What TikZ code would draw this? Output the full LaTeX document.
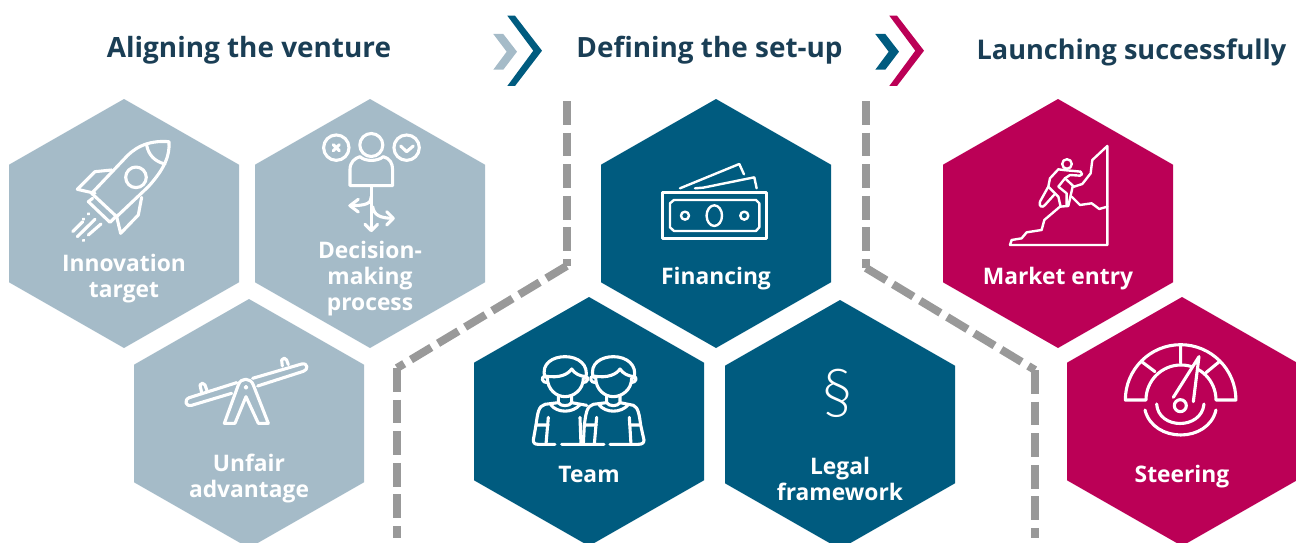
\documentclass[tikz,border=0pt]{standalone}
\usepackage{fontspec}
\setmainfont{Open Sans}
\newfontfamily\lightfont{Lato Light}
\definecolor{lightc}{HTML}{A5BBC8}
\definecolor{bluec}{HTML}{005B7F}
\definecolor{redc}{HTML}{BB0056}
\definecolor{greyc}{HTML}{999999}
\definecolor{titlec}{HTML}{1A3E55}
\newcommand{\hexa}[3]{\fill[#1,shift={(#2,#3)}] (0,-124.5)--(115,-58.8)--(115,58.8)--(0,124.5)--(-115,58.8)--(-115,-58.8)--cycle;}
\tikzset{
  titletext/.style={text=titlec,font=\fontsize{27.9}{30}\selectfont\bfseries,inner sep=0pt},
  hexlabel/.style={text=white,font=\fontsize{22.8}{26}\selectfont\bfseries,align=center,inner sep=0pt},
  icon/.style={draw=white,line width=3.1pt,line join=round,line cap=round},
  sepline/.style={draw=greyc,line width=8pt,dash pattern=on 23.7pt off 7.9pt},
  zoomA/.style={shift={(#1)},x=0.3333pt,y=-0.3333pt},
}
\begin{document}
\begin{tikzpicture}[x=1pt,y=-1pt]
\clip (0,0) rectangle (1296,543);
% titles
\node[titletext] (t1) at (249,50.5) {Aligning the venture};
\node[titletext] (t2) at (709.5,50.5) {Defining the set-up};
\node[titletext,font=\fontsize{27.1}{30}\selectfont\bfseries] (t3) at (1131.5,52) {Launching successfully};
% chevrons
\fill[lightc] (493.3,34)--(503.3,34)--(517,51.7)--(503.3,69.7)--(493.3,69.7)--(506.7,51.7)--cycle;
\fill[bluec] (507.3,15.7)--(515,15.7)--(542,50.7)--(515,86)--(507.3,86)--(533.3,50.7)--cycle;
\fill[bluec] (875.3,34)--(885.3,34)--(899,51.7)--(885.3,69.7)--(875.3,69.7)--(888.7,51.7)--cycle;
\fill[redc] (889.3,15.7)--(897,15.7)--(924,50.7)--(897,86)--(889.3,86)--(915.3,50.7)--cycle;
% separators
\coordinate (a1) at (566.7,101); \coordinate (a2) at (566.7,266); \coordinate (a3) at (397,368); \coordinate (a4) at (397,538);
\coordinate (b1) at (866,101); \coordinate (b2) at (866,268); \coordinate (b3) at (1035,370); \coordinate (b4) at (1035,538);
\draw[sepline] (a1)--(a2); \draw[sepline] (a2)--(a3); \draw[sepline] (a3)--(a4);
\draw[sepline] (b1)--(b2); \draw[sepline] (b2)--(b3); \draw[sepline] (b3)--(b4);
% hexagons
\hexa{lightc}{124}{223.5}
\hexa{lightc}{370}{223.5}
\hexa{lightc}{249}{423.5}
\hexa{bluec}{716}{223.5}
\hexa{bluec}{589}{421.5}
\hexa{bluec}{840}{424.5}
\hexa{redc}{1058}{223.5}
\hexa{redc}{1182}{421.5}
% labels
\node[hexlabel] (l1) at (124,278.5) {Innovation\\target};
\node[hexlabel] (l2) at (370,278.5) {Decision-\\making\\process};
\node[hexlabel] (l3) at (249,478.5) {Unfair\\advantage};
\node[hexlabel] (l4) at (716,278.5) {Financing};
\node[hexlabel] (l5) at (589,474.5) {Team};
\node[hexlabel] (l6) at (840,478.5) {Legal\\framework};
\node[hexlabel] (l7) at (1058,278.5) {Market entry};
\node[hexlabel] (l8) at (1182,476.5) {Steering};
% section sign
\node[text=white,inner sep=0pt,font=\fontsize{62}{62}\selectfont\lightfont] (sec) at (838,393) {§};
% rocket
\begin{scope}[zoomA={0,90}]
\draw[icon] (507,155) .. controls (440,150) and (400,175) .. (370,210) -- (275,310) -- (350,380) -- (445,290) .. controls (495,235) and (510,195) .. (507,155) -- cycle;
\draw[icon] (440,165) .. controls (445,195) and (465,215) .. (495,222);
\draw[icon] (408,262) circle[radius=10.3pt];
\draw[icon] (335,240) -- (285,245) -- (232,298) -- (285,310);
\draw[icon] (425,322) -- (415,375) -- (362,430) -- (350,380);
\draw[icon] (278,325) -- (265,335) -- (330,397) -- (345,382);
\draw[icon] (218,425)--(248,395) (232,440)--(285,388) (265,435)--(303,402);
\draw[icon] (250,388)--(251,387) (265,372)--(266,371) (250,452)--(251,451);
% decision
\draw[icon] (1009,173) circle[radius=12.7pt] (1220,173) circle[radius=12.7pt] (1114,165) circle[radius=11.5pt];
\draw[icon] (1000,164)--(1018,182) (1018,164)--(1000,182);
\draw[icon] (1202,168)--(1220,185)--(1240,168);
\draw[icon] (1050,287) -- (1050,240) .. controls (1050,215) and (1065,205) .. (1080,200) .. controls (1095,215) and (1133,215) .. (1150,200) .. controls (1170,205) and (1178,220) .. (1178,240) -- (1178,287) -- cycle;
\draw[icon] (1114,287)--(1114,422);
\draw[icon] (1114,320) .. controls (1114,340) and (1100,347) .. (1050,347);
\draw[icon] (1075,328)--(1050,347)--(1075,366);
\draw[icon] (1118,350) .. controls (1122,375) and (1140,385) .. (1180,385);
\draw[icon] (1160,365)--(1180,385)--(1160,405);
\draw[icon] (1095,403)--(1114,422)--(1133,403);
\end{scope}
% seesaw
\begin{scope}[zoomA={130,300}]
\draw[icon] (320,248) -- (178,293) .. controls (160,300) and (168,322) .. (185,316) -- (305,280);
\draw[icon] (368,235) -- (515,192) .. controls (535,188) and (535,210) .. (520,214) -- (383,258);
\draw[icon] (215,278)--(210,255) .. controls (212,248) and (222,248) .. (225,255) -- (231,272);
\draw[icon] (457,198)--(455,180) .. controls (458,172) and (468,174) .. (470,180) -- (475,194);
\draw[icon] (283,370) -- (325,255) .. controls (332,232) and (362,232) .. (370,255) -- (415,370) -- (385,370) -- (348,290) -- (315,370) -- cycle;
\draw[icon,line width=2pt] (348,262) circle[radius=1.4pt];
\end{scope}
% money
\begin{scope}[zoomA={470,0}]
\draw[icon,line cap=butt,line width=2.4pt] (578,578) rectangle (889,716);
\draw[icon,line width=2.4pt] (600,610)--(612,600)--(858,600)--(868,610)--(868,682)--(858,693)--(612,693)--(600,682)--cycle;
\draw[icon,line width=2.4pt] (733,647) ellipse[x radius=7.7pt,y radius=10.3pt];
\draw[icon,line width=2.4pt] (645,647) circle[radius=4pt] (823,647) circle[radius=4pt];
\draw[icon,line width=2.4pt] (630,565)--(808,492)--(822,523);
\draw[icon,line width=2.4pt] (675,565)--(700,563)--(853,532)--(860,565);
\end{scope}
% team
\foreach \dx in {0,145}{
\begin{scope}[zoomA={470+\dx/3,300}]
\draw[icon] (225,232) .. controls (212,190) and (250,170) .. (285,170) .. controls (325,170) and (358,195) .. (347,235);
\draw[icon] (225,228) .. controls (270,236) and (295,222) .. (305,207) .. controls (315,222) and (330,228) .. (347,230);
\draw[icon] (232,232) .. controls (232,270) and (260,290) .. (285,290) .. controls (310,290) and (340,270) .. (340,235);
\draw[icon] (224,228) .. controls (212,232) and (216,248) .. (232,248) (346,228) .. controls (358,232) and (354,248) .. (338,248);
\draw[icon] (265,288)--(265,308) .. controls (272,320) and (298,320) .. (305,308)--(305,288);
\draw[icon] (242,314) .. controls (262,340) and (308,340) .. (330,314);
\end{scope}}
\begin{scope}[zoomA={470,300}]
\draw[icon] (265,308) -- (225,313) .. controls (205,318) and (203,340) .. (198,375) -- (190,420) .. controls (190,430) and (195,433) .. (205,433) -- (255,433);
\draw[icon] (235,352)--(228,433) (198,375)--(235,375);
\draw[icon] (305,308)--(350,316);
\draw[icon] (275,433)--(402,433) (330,352)--(333,433);
\draw[icon] (410,308) -- (370,313) .. controls (350,318) and (348,340) .. (343,375) -- (340,433);
\draw[icon] (380,352)--(373,433) (343,375)--(380,375);
\draw[icon] (450,308) -- (490,316) .. controls (505,322) and (508,345) .. (512,375) -- (522,420) .. controls (522,430) and (515,433) .. (505,433) -- (420,433);
\draw[icon] (478,352)--(483,433) (478,375)--(512,375);
\end{scope}
% climber
\begin{scope}[zoomA={850,90}]
\draw[icon,line width=2.4pt] (480,465)--(772,465)--(772,168)--(727,210)--(722,250)--(697,282)--(672,290);
\draw[icon,line width=2.4pt] (480,465)--(485,450)--(515,445)--(530,427)--(575,420)--(583,390)--(630,350)--(655,348)--(668,290);
\draw[icon,line width=2.4pt] (665,320)--(690,345)--(725,340)--(748,357)--(772,350);
\draw[icon,line width=2.4pt] (651,222) circle[radius=4.8pt];
\draw[icon,line width=2.4pt] (692,245)--(640,240)--(625,238)--(600,265)--(595,290)--(570,335) .. controls (565,350) and (578,355) .. (585,345) -- (612,315);
\draw[icon,line width=2.4pt] (692,245) .. controls (698,250) and (698,257) .. (690,257) -- (660,255) -- (645,265) -- (625,290) -- (650,310) -- (650,345);
\draw[icon,line width=2.4pt] (595,290)--(625,320)--(632,350);
\draw[icon,line width=2.4pt] (645,265)--(672,290);
\end{scope}
% gauge
\begin{scope}[zoomA={1020,300}]
\draw[icon] (316,300) arc[start angle=180,end angle=0,radius=55.3pt] -- (588,300) arc[start angle=0,end angle=180,radius=35pt] -- cycle;
\draw[icon] (482,137)--(482,190) (365,185)--(405,215) (598,185)--(558,218);
\fill[redc] (537,170)--(460,292)--(520,300)--cycle;
\draw[icon] (537,170)--(460,292) (537,170)--(520,305);
\draw[icon] (481,317) circle[radius=6pt];
\draw[icon] (410,312) .. controls (415,390) and (545,390) .. (552,312);
\draw[icon] (375,330) .. controls (400,430) and (565,430) .. (588,330);
\end{scope}
\end{tikzpicture}
\end{document}
